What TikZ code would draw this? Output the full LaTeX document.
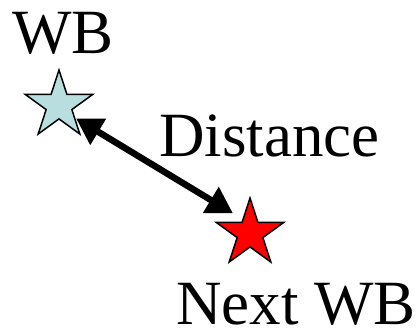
\documentclass[tikz,border=0pt]{standalone}
\usepackage{fontspec}
\setmainfont{Liberation Serif}
\usetikzlibrary{shapes.geometric,arrows.meta,calc}
\definecolor{wbblue}{RGB}{185,222,224}
\definecolor{wbred}{RGB}{255,0,0}
\begin{document}
\begin{tikzpicture}[x=1pt,y=-1pt,
  starnode/.style={star,star points=5,star point ratio=2.618,minimum size=70.8pt,inner sep=0pt,outer sep=0pt,draw=black,line width=1.5pt},
  lbl/.style={font=\fontsize{63}{70}\selectfont,inner sep=0pt,anchor=base west},
  arr/.style={line width=6.5pt,{Triangle[length=26pt,width=29pt]}-{Triangle[length=26pt,width=29pt]}}]
\useasboundingbox (0,0) rectangle (418,331);
\node[starnode,fill=wbblue] (s1) at (59,105.4) {};
\node[starnode,fill=wbred] (s2) at (250,233.4) {};
\node[lbl] (t1) at (12,54) {WB};
\node[lbl] (t2) at (159,157) {Distance};
\node[lbl] (t3) at (176,324) {Next WB};
\draw[arr] ($(s1.center)+(17,13)$) -- ($(s2.center)+(-17,-20)$);
\end{tikzpicture}
\end{document}
